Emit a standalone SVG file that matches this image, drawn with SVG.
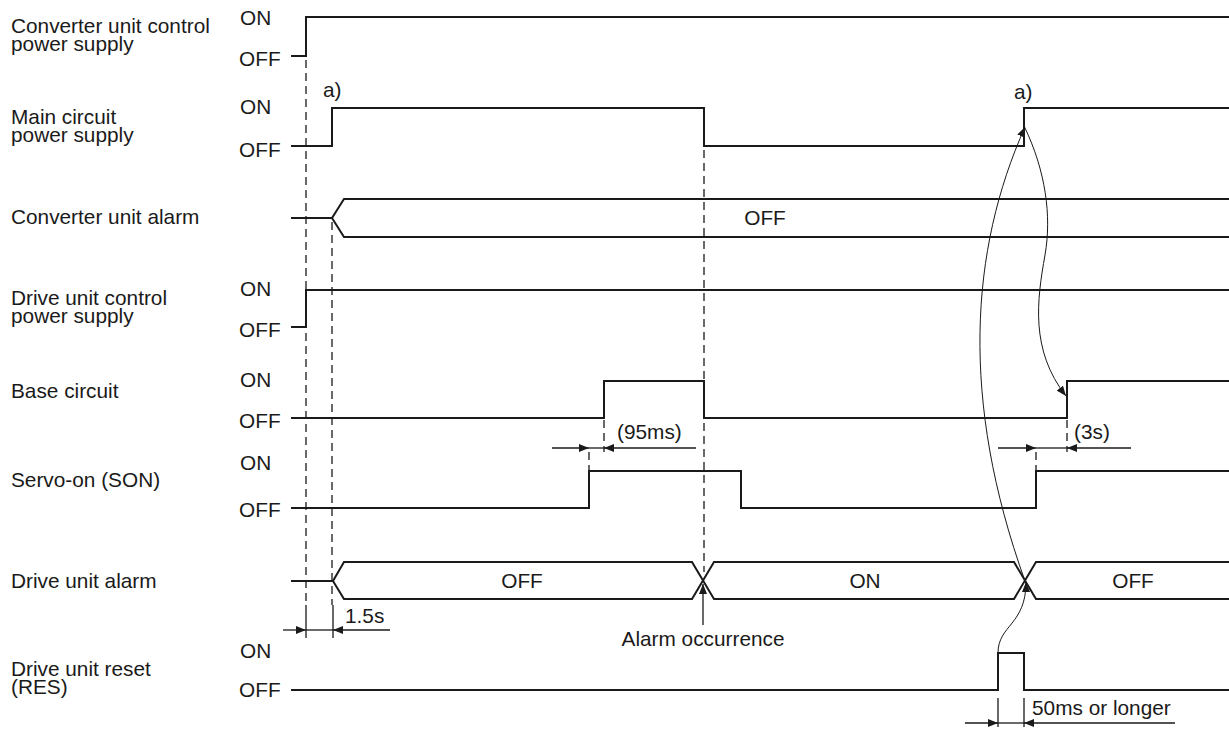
<svg xmlns="http://www.w3.org/2000/svg" width="1229" height="729" viewBox="0 0 1229 729">
<style>
text{font-family:"Liberation Sans",Arial,Helvetica,sans-serif;font-size:20.8px;fill:#1a1a1a}
.mid{text-anchor:middle}
.sig{fill:none;stroke:#1a1a1a;stroke-width:2}
.dash{fill:none;stroke:#1a1a1a;stroke-width:1.3;stroke-dasharray:8,5}
.dim{fill:none;stroke:#1a1a1a;stroke-width:1.3}
.thin{fill:none;stroke:#1a1a1a;stroke-width:1}
</style>
<defs>
<marker id="ah" viewBox="0 0 10 8" refX="10" refY="4" markerWidth="10" markerHeight="8" markerUnits="userSpaceOnUse" orient="auto">
<path d="M0,0 L10,4 L0,8 z" fill="#1a1a1a"/>
</marker>
</defs>
<rect width="1229" height="729" fill="#fff"/>

<g id="guides">
<path class="dash" d="M306,60 V605 M332,222 V605 M704,150 V572 M589,452 V470 M604,420 V452 M1036,452 V470 M1067,420 V452"/>
<path class="dim" d="M306,605 V638 M333,605 V638 M998,698 V727 M1024,698 V727"/>
</g>

<g id="sig-conv-ctrl">
<text x="11" y="33">Converter unit control<tspan x="11" dy="18">power supply</tspan></text>
<text x="240" y="25">ON</text>
<text x="239" y="66">OFF</text>
<path class="sig" d="M291,56 H306 V17 H1229"/>
</g>

<g id="sig-main">
<text x="11" y="124">Main circuit<tspan x="11" dy="18">power supply</tspan></text>
<text x="240" y="114">ON</text>
<text x="239" y="157">OFF</text>
<text x="323" y="97">a)</text>
<text x="1014" y="99">a)</text>
<path class="sig" d="M291,146 H332 V108 H704 V146 H1024 V108 H1229"/>
</g>

<g id="sig-conv-alarm">
<text x="11" y="224">Converter unit alarm</text>
<path class="sig" d="M291,218 H332 L344,199 H1229 M332,218 L344,237 H1229"/>
<text class="mid" x="765" y="225">OFF</text>
</g>

<g id="sig-drive-ctrl">
<text x="11" y="305">Drive unit control<tspan x="11" dy="18">power supply</tspan></text>
<text x="240" y="296">ON</text>
<text x="239" y="337">OFF</text>
<path class="sig" d="M291,327 H306 V290 H1229"/>
</g>

<g id="sig-base">
<text x="11" y="398">Base circuit</text>
<text x="240" y="387">ON</text>
<text x="239" y="428">OFF</text>
<path class="sig" d="M291,418 H604 V381 H704 V418 H1067 V381 H1229"/>
</g>

<g id="sig-servo">
<text x="11" y="487">Servo-on (SON)</text>
<text x="240" y="470">ON</text>
<text x="239" y="517">OFF</text>
<path class="sig" d="M291,508 H589 V471 H741 V508 H1036 V471 H1229"/>
</g>

<g id="sig-drive-alarm">
<text x="11" y="588">Drive unit alarm</text>
<path class="sig" d="M291,581 H333 L344,562 H692 L714,599 H1014 L1036,562 H1229 M333,581 L344,599 H692 L714,562 H1014 L1036,599 H1229"/>
<text class="mid" x="522" y="588">OFF</text>
<text class="mid" x="865" y="588">ON</text>
<text class="mid" x="1133" y="588">OFF</text>
</g>

<g id="sig-reset">
<text x="11" y="676">Drive unit reset<tspan x="11" dy="18">(RES)</tspan></text>
<text x="240" y="658">ON</text>
<text x="239" y="697">OFF</text>
<path class="sig" d="M291,690 H998 V653 H1024 V690 H1229"/>
</g>

<g id="connectors">
<path class="dim" d="M283,630 H306" marker-end="url(#ah)"/>
<path class="dim" d="M306,630 H333"/>
<path class="dim" d="M390,630 H333" marker-end="url(#ah)"/>
<text x="345" y="623">1.5s</text>

<path class="dim" d="M552,448 H589" marker-end="url(#ah)"/>
<path class="dim" d="M589,448 H604"/>
<path class="dim" d="M696,448 H604" marker-end="url(#ah)"/>
<text x="617" y="439">(95ms)</text>

<path class="dim" d="M998,448 H1036" marker-end="url(#ah)"/>
<path class="dim" d="M1036,448 H1067"/>
<path class="dim" d="M1131,448 H1067" marker-end="url(#ah)"/>
<text x="1074" y="439">(3s)</text>

<path class="dim" d="M965,723 H998" marker-end="url(#ah)"/>
<path class="dim" d="M998,723 H1024"/>
<path class="dim" d="M1175,723 H1024" marker-end="url(#ah)"/>
<text x="1032" y="715">50ms or longer</text>

<path class="dim" d="M703,625 V584" marker-end="url(#ah)"/>
<text class="mid" x="703" y="646">Alarm occurrence</text>

<path class="thin" d="M998,653 C998,625 1026,625 1026,582" marker-end="url(#ah)"/>
<path class="thin" d="M1025,581 C960,400 970,250 1025,127" marker-end="url(#ah)"/>
<path class="thin" d="M1025,128 C1045,170 1052,215 1045,255 C1037,300 1030,350 1066,396" marker-end="url(#ah)"/>
</g>
</svg>
